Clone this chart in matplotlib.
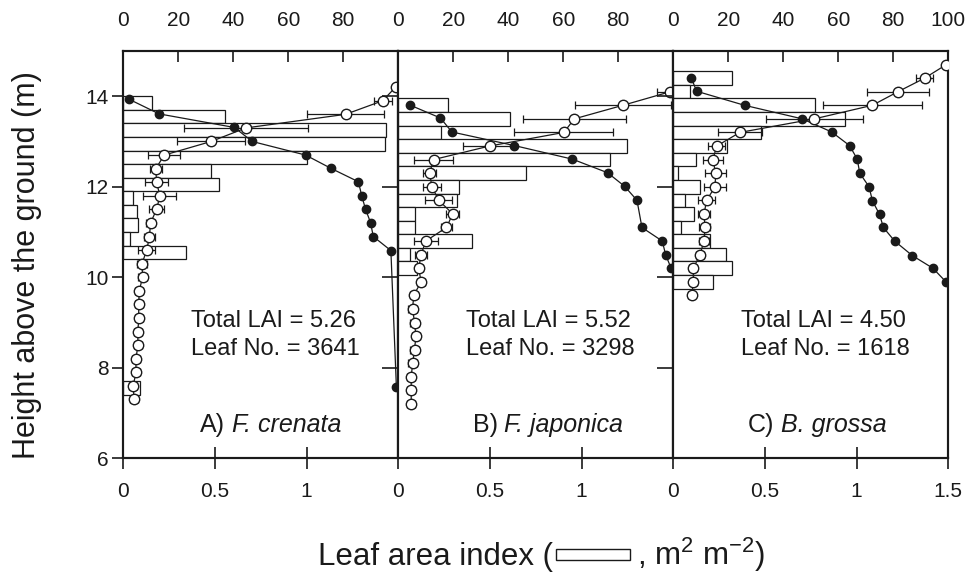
import numpy as np
import matplotlib.pyplot as plt
from matplotlib.patches import Rectangle

plt.rcParams['font.family'] = ['Liberation Sans', 'DejaVu Sans']
plt.rcParams['mathtext.fontset'] = 'custom'
plt.rcParams['mathtext.rm'] = 'Liberation Sans'
plt.rcParams['mathtext.it'] = 'Liberation Sans:italic'

# ---- A) F. crenata ----
a_layer = [13.7, 13.4, 13.1, 12.8, 12.5, 12.2, 11.9, 11.6, 11.3, 11.0, 10.7, 10.4, 7.4]
a_lai = [0.155, 0.555, 1.433, 1.43, 1.0, 0.48, 0.52, 0.055, 0.073, 0.082, 0.036, 0.342, 0.09]
a_cum_h = [13.93, 13.61, 13.31, 13.0, 12.70, 12.41, 12.11, 11.80, 11.50, 11.21, 10.90, 10.59, 7.58]
a_cum = [2.2, 13.0, 40.4, 46.9, 66.3, 75.4, 85.5, 86.7, 88.1, 89.9, 90.9, 97.3, 99.3]
a_h = [14.2, 13.9, 13.6, 13.3, 13.0, 12.7, 12.4, 12.1, 11.8, 11.5, 11.2, 10.9,
       10.6, 10.3, 10.0, 9.7, 9.4, 9.1, 8.8, 8.5, 8.2, 7.9, 7.6, 7.3]
a_pct = [99.0, 94.3, 80.8, 44.6, 31.9, 14.9, 11.8, 12.1, 13.3, 12.1, 9.9, 9.5,
         8.5, 6.8, 7.0, 5.8, 5.6, 5.6, 5.3, 5.3, 4.6, 4.6, 3.6, 3.9]
a_err = [0, 3.3, 14.0, 22.5, 12.5, 5.8, 2.1, 4.1, 6.0, 2.6, 1.6, 2.1,
         3.0, 1.7, 1.7, 1.5, 1.5, 1.5, 1.5, 1.5, 1.5, 1.5, 1.5, 1.5]

# ---- B) F. japonica ----
b_layer = [13.65, 13.35, 13.05, 12.75, 12.45, 12.15, 11.85, 11.55, 11.25, 10.95, 10.65, 10.35, 10.05]
b_lai = [0.269, 0.607, 0.235, 1.247, 1.156, 0.698, 0.329, 0.32, 0.09, 0.089, 0.40, 0.062, 0.1]
b_cum_h = [13.80, 13.52, 13.21, 12.91, 12.61, 12.31, 12.01, 11.70, 11.10, 10.80, 10.50, 10.20]
b_cum = [4.4, 15.3, 19.5, 42.2, 63.3, 76.1, 82.3, 86.8, 88.6, 96.0, 97.2, 99.2]
b_h = [14.1, 13.8, 13.5, 13.2, 12.9, 12.6, 12.3, 12.0, 11.7, 11.4, 11.1, 10.8,
       10.5, 10.2, 9.9, 9.6, 9.3, 9.0, 8.7, 8.4, 8.1, 7.8, 7.5, 7.2]
b_pct = [98.9, 81.7, 64.0, 60.2, 33.2, 12.8, 11.4, 12.2, 14.7, 19.8, 17.5, 10.0,
         8.3, 7.4, 8.3, 5.6, 5.2, 5.9, 6.4, 5.9, 5.2, 4.7, 4.7, 4.7]
b_err = [5.0, 17.3, 18.7, 18.0, 9.5, 7.0, 2.4, 3.2, 5.0, 2.4, 2.0, 4.3,
         2.3, 1.5, 1.5, 1.5, 1.5, 1.5, 1.5, 1.5, 1.5, 1.5, 1.5, 1.5]

# ---- C) B. grossa ----
c_layer = [14.25, 13.95, 13.65, 13.35, 13.05, 12.75, 12.45, 12.15, 11.85, 11.55, 11.25, 10.95,
           10.65, 10.35, 10.05, 9.75]
c_lai = [0.318, 0.091, 0.771, 0.935, 0.48, 0.295, 0.122, 0.025, 0.144, 0.062, 0.113, 0.044,
         0.2, 0.29, 0.322, 0.218]
c_cum_h = [14.41, 14.11, 13.80, 13.50, 13.21, 12.91, 12.61, 12.30, 12.0, 11.69, 11.39, 11.10,
           10.80, 10.48, 10.20, 9.89]
c_cum = [6.5, 8.5, 25.9, 46.9, 57.6, 64.1, 66.9, 67.8, 71.2, 72.4, 75.0, 76.4,
         80.5, 86.9, 94.4, 99.3]
c_h = [14.7, 14.4, 14.1, 13.8, 13.5, 13.2, 12.9, 12.6, 12.3, 12.0, 11.7, 11.4,
       11.1, 10.8, 10.5, 10.2, 9.9, 9.6]
c_pct = [99.3, 91.4, 81.7, 72.4, 51.3, 24.2, 15.8, 14.4, 15.4, 15.2, 12.1, 11.2,
         11.5, 11.2, 9.7, 7.3, 7.3, 6.7]
c_err = [0, 3.0, 11.3, 18.0, 17.7, 8.0, 3.0, 3.7, 3.8, 3.9, 3.0, 2.2,
         2.0, 1.7, 1.5, 1.5, 1.2, 1.2]

total_lai = ['5.26', '5.52', '4.50']
leaf_no = ['3641', '3298', '1618']
letters = ['A)', 'B)', 'C)']
species = ['F. crenata', 'F. japonica', 'B. grossa']

layers = [a_layer, b_layer, c_layer]
lais = [a_lai, b_lai, c_lai]
cum_hs = [a_cum_h, b_cum_h, c_cum_h]
cums = [a_cum, b_cum, c_cum]
hs = [a_h, b_h, c_h]
pcts = [a_pct, b_pct, c_pct]
errs = [a_err, b_err, c_err]

fig = plt.figure(figsize=(9.71, 5.88), dpi=100)
left, bottom, w, h = 0.127, 0.2206, 0.2832, 0.6927
ink = '#1a1a1a'
label_x = [0.28, 0.27, 0.27]

for i in range(3):
    ax = fig.add_axes([left + i * w, bottom, w, h])
    ax.barh(layers[i], lais[i], height=0.3, align='edge', color='white',
            edgecolor=ink, linewidth=0.9, zorder=1)
    ax.set_xlim(0, 1.5)
    ax.set_ylim(6, 15)
    for s in ax.spines.values():
        s.set_linewidth(1.5)
        s.set_color(ink)

    if i < 2:
        ax.set_xticks([0, 0.5, 1], ['0', '0.5', '1'])
    else:
        ax.set_xticks([0, 0.5, 1, 1.5], ['0', '0.5', '1', '1.5'])
    ax.tick_params(axis='x', direction='inout', length=16, width=1.2, pad=9,
                   labelsize=15, colors=ink)
    ax.set_yticks([6, 8, 10, 12, 14])
    if i == 0:
        ax.tick_params(axis='y', direction='out', length=8, width=1.2, pad=2.5,
                       labelsize=15, colors=ink)
    else:
        ax.tick_params(axis='y', direction='out', length=11.5, width=1.2,
                       labelleft=False, colors=ink)

    ax.text(0.245, 0.337, 'Total LAI = ' + total_lai[i], transform=ax.transAxes,
            fontsize=17, va='center', ha='left', color=ink)
    ax.text(0.245, 0.268, 'Leaf No. = ' + leaf_no[i], transform=ax.transAxes,
            fontsize=17, va='center', ha='left', color=ink)
    t1 = ax.text(label_x[i], 0.081, letters[i], transform=ax.transAxes,
                 fontsize=18, va='center', ha='left', color=ink)
    ax.annotate(species[i], xy=(1, 0), xycoords=t1, xytext=(5, 0),
                textcoords='offset points', fontsize=18, fontstyle='italic',
                va='bottom', ha='left', color=ink)

    ax2 = ax.twiny()
    ax2.set_xlim(0, 100)
    if i < 2:
        ax2.set_xticks([0, 20, 40, 60, 80])
    else:
        ax2.set_xticks([0, 20, 40, 60, 80, 100])
    ax2.tick_params(axis='x', direction='in', length=8, width=1.2, pad=15,
                    labelsize=15, colors=ink)
    for s in ax2.spines.values():
        s.set_linewidth(1.5)
        s.set_color(ink)

    ax2.plot(cums[i], cum_hs[i], '-o', color=ink, ms=6, lw=0.9, zorder=3)
    ax2.errorbar(pcts[i], hs[i], xerr=errs[i], fmt='-o', color=ink, mfc='white',
                 mec=ink, ms=7.5, lw=0.9, elinewidth=0.9, capsize=3, capthick=0.9,
                 zorder=4)

fig.text(0.028, 0.549, 'Height above the ground (m)', rotation=90,
         fontsize=22, ha='center', va='center', color=ink)

fig.text(553 / 971, 0.039, 'Leaf area index (', fontsize=22.5, ha='right',
         va='baseline', color=ink)
fig.patches.append(Rectangle((556 / 971, 0.0476), 74 / 971, 11 / 588,
                             transform=fig.transFigure, facecolor='white',
                             edgecolor=ink, linewidth=1.0))
fig.text(637 / 971, 0.039, ', $\\mathregular{m^{2}\\ m^{-2}}$)', fontsize=22.5,
         ha='left', va='baseline', color=ink)

fig.savefig('out.png', dpi=100)
